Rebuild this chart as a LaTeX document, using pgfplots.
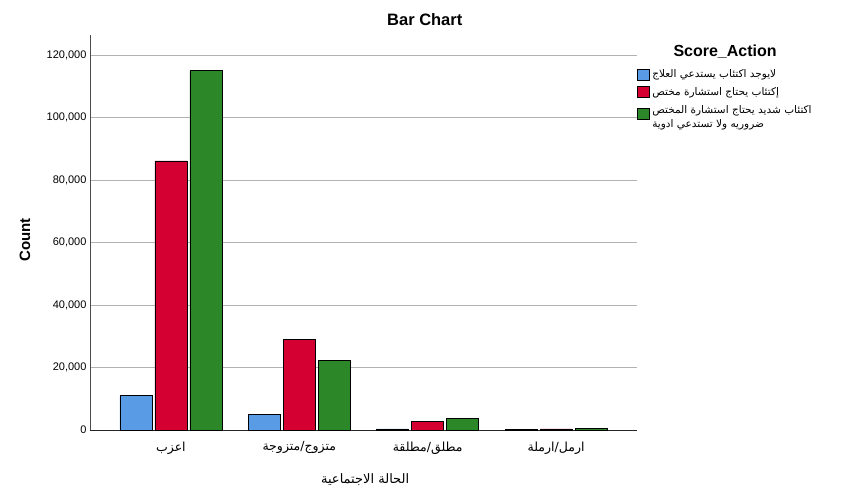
\documentclass[border=0pt]{standalone}
\usepackage{pgfplots}
\pgfplotsset{compat=1.18}
\usepackage{fontspec}
\setmainfont{Liberation Sans}
\newfontfamily\arabicfont[Script=Arabic]{DejaVu Sans}
\TeXXeTstate=1
\definecolor{cBlue}{RGB}{90,155,230}
\definecolor{cRed}{RGB}{213,0,50}
\definecolor{cGreen}{RGB}{44,135,40}
\newcommand{\arb}[1]{{\arabicfont\beginR #1\endR}}
\begin{document}
\begin{tikzpicture}
\useasboundingbox (0,0) rectangle (851pt,501pt);
\fill[white] (0,0) rectangle (851pt,501pt);
\begin{axis}[
  at={(90pt,71pt)}, anchor=south west,
  scale only axis, width=547pt, height=395pt,
  ybar=3pt, bar width=32pt,
  xmin=-0.63, xmax=3.63,
  ymin=0, ymax=126400,
  xtick={0,1,2,3},
  xticklabels={{\arb{اعزب}},{\arb{متزوج/متزوجة}},{\arb{مطلق/مطلقة}},{\arb{ارمل/ارملة}}},
  xticklabel style={font=\fontsize{12.5}{14}\selectfont, yshift=-8pt},
  ytick={0,20000,40000,60000,80000,100000,120000},
  yticklabels={0,{20,000},{40,000},{60,000},{80,000},{100,000},{120,000}},
  scaled y ticks=false,
  yticklabel style={font=\fontsize{11}{13}\selectfont},
  axis x line*=bottom, axis y line*=left,
  axis line style={-, draw=black!70},
  x axis line style={draw=black!85},
  major tick length=0pt,
  ymajorgrids, grid style={draw=black!30, line width=0.8pt},
  ylabel={\textbf{Count}},
  ylabel style={at={(axis description cs:-0.119,0.481)}, anchor=center, font=\fontsize{15}{17}\selectfont},
  xlabel={\arb{الحالة الاجتماعية}},
  xlabel style={at={(axis description cs:0.503,-0.126)}, anchor=center, font=\fontsize{13}{15}\selectfont},
  title={\textbf{Bar Chart}},
  title style={at={(axis description cs:0.612,1.023)}, anchor=center, font=\fontsize{16.5}{18}\selectfont},
  legend style={at={(axis description cs:1.0,0.919)}, anchor=north west, draw=none, fill=none,
    font=\fontsize{10.5}{12.5}\selectfont, row sep=3pt, inner sep=0pt,
    nodes={inner sep=2.5pt}},
  legend cell align=left,
  legend image code/.code={\draw[#1,draw=black,line width=0.6pt] (0pt,-5.5pt) rectangle (12pt,5.5pt);},
  every axis plot/.append style={draw=black, line width=0.7pt},
  clip=false,
]
\addplot[fill=cBlue] coordinates {(0,11000) (1,5100) (2,350) (3,100)};
\addlegendentry{\arb{لايوجد اكتئاب يستدعي العلاج}}
\addplot[fill=cRed] coordinates {(0,86100) (1,29100) (2,2650) (3,350)};
\addlegendentry{\arb{إكتئاب يحتاج استشارة مختص}}
\addplot[fill=cGreen] coordinates {(0,115000) (1,22400) (2,3600) (3,550)};
\addlegendentry{\begin{tabular}{@{}l@{}}\arb{اكتئاب شديد يحتاج استشارة المختص}\\[2pt]\arb{ضروريه ولا تستدعي ادوية}\end{tabular}}
\node[font=\fontsize{16}{18}\selectfont\bfseries, anchor=center] at (axis description cs:1.161,0.957) {Score\_Action};
\end{axis}
\end{tikzpicture}
\end{document}
